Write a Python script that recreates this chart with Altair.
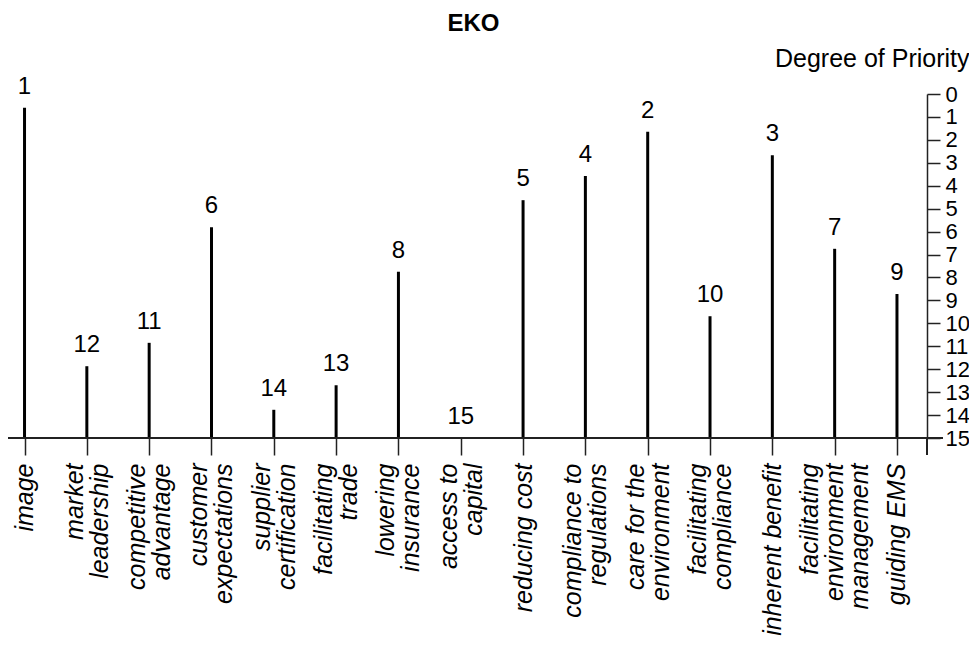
import altair as alt
import pandas as pd

categories = [
    "image",
    "market|leadership",
    "competitive|advantage",
    "customer|expectations",
    "supplier|certification",
    "facilitating|trade",
    "lowering|insurance",
    "access to|capital",
    "reducing cost",
    "compliance to|regulations",
    "care for the|environment",
    "facilitating|compliance",
    "inherent benefit",
    "facilitating|environment|management",
    "guiding EMS",
]
priority = [0.6, 11.87, 10.85, 5.81, 13.77, 12.7, 7.75, 15.0, 4.63, 3.58, 1.65, 9.69, 2.67, 6.75, 8.72]
rank = [1, 12, 11, 6, 14, 13, 8, 15, 5, 4, 2, 10, 3, 7, 9]
y_ticks = list(range(0, 16))

df = pd.DataFrame({"category": categories, "priority": priority, "rank": rank, "base": [15] * len(categories)})

FONT = "Liberation Sans"
W, H = 919, 344
LH = 25

xscale = alt.Scale(type="point", padding=0.3735, align=0.355)
yscale = alt.Scale(domain=[0, 15], reverse=True, nice=False, zero=False)

x_enc = alt.X(
    "category:N",
    sort=None,
    scale=xscale,
    axis=alt.Axis(
        title=None,
        domain=False,
        grid=False,
        ticks=True,
        tickSize=17,
        tickColor="#222222",
        tickWidth=1.5,
        labelAngle=-90,
        labelAlign="right",
        labelBaseline="middle",
        labelPadding=8,
        labelFont=FONT,
        labelFontSize=25,
        labelFontStyle="italic",
        labelColor="black",
        labelLineHeight=LH,
        labelLimit=600,
        labelOverlap=False,
        labelFlush=False,
        labelExpr="split(datum.label, '|')",
        labelOffset={
            "condition": [
                {"test": "length(split(datum.label, '|')) == 3", "value": -LH},
                {"test": "length(split(datum.label, '|')) == 2", "value": -LH / 2},
            ],
            "value": 0,
        },
    ),
)

y_enc = alt.Y(
    "priority:Q",
    scale=yscale,
    axis=alt.Axis(
        orient="right",
        values=y_ticks,
        grid=False,
        domainColor="#222222",
        domainWidth=1.5,
        tickColor="#222222",
        tickWidth=1.5,
        tickSize=13,
        labelPadding=5,
        labelFont=FONT,
        labelFontSize=22,
        labelColor="black",
        labelFlush=False,
        labelOverlap=False,
        title="Degree of Priority",
        titleAngle=0,
        titleAlign="right",
        titleBaseline="alphabetic",
        titleX=42,
        titleY=-28,
        titleFont=FONT,
        titleFontSize=25,
        titleFontWeight="normal",
        titleColor="black",
    ),
)

stems = alt.Chart(df).mark_rule(color="black", strokeWidth=3).encode(
    x=x_enc,
    y=y_enc,
    y2="base:Q",
)

rank_text = alt.Chart(df).mark_text(
    font=FONT, fontSize=24, color="black", baseline="alphabetic", align="center", dy=-14
).encode(
    x=x_enc,
    y=y_enc,
    text="rank:Q",
)

baseline = alt.Chart(df).mark_rule(color="#222222", strokeWidth=1.5).encode(
    x=alt.value(0), x2=alt.value(W + 16), y=alt.value(H)
)
right_tick = alt.Chart(df).mark_rule(color="#222222", strokeWidth=1.5).encode(
    x=alt.value(W), y=alt.value(H), y2=alt.value(H + 17)
)

chart = (
    alt.layer(stems, rank_text, baseline, right_tick)
    .properties(
        width=W,
        height=H,
        background="white",
        title=alt.TitleParams(
            "EKO", font=FONT, fontSize=24, fontWeight="bold", color="black",
            anchor="middle", frame="group", offset=10, dx=6,
        ),
        autosize=alt.AutoSizeParams(type="none"),
        padding={"left": 0, "top": 86, "right": 42, "bottom": 204},
    )
    .configure_view(stroke=None, strokeWidth=0)
)

chart.save("out.html", embed_options={"renderer": "svg", "actions": False})
